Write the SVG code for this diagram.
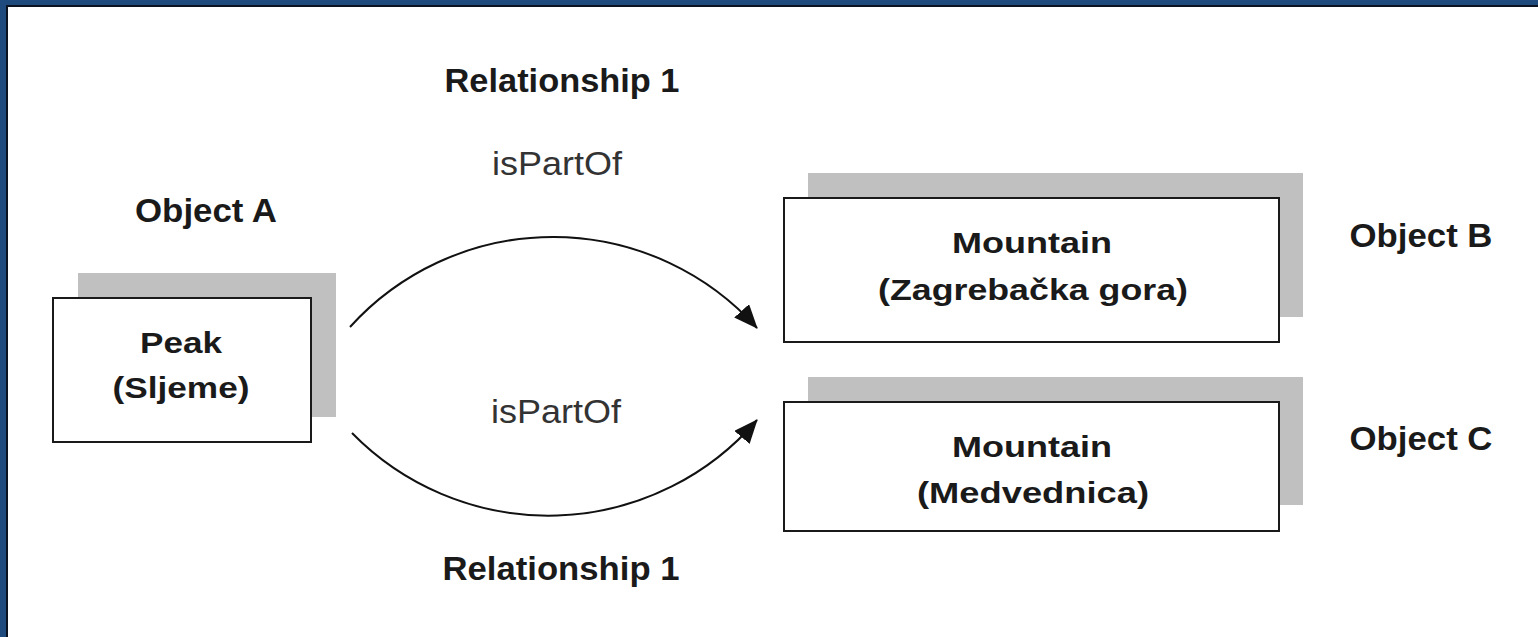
<svg xmlns="http://www.w3.org/2000/svg" width="1538" height="637" viewBox="0 0 1538 637">
<style>
.b{font-family:"Liberation Sans",Arial,sans-serif;font-weight:bold;fill:#1a1a1a;text-anchor:middle}
.r{font-family:"Liberation Sans",Arial,sans-serif;font-weight:normal;fill:#333;text-anchor:middle}
.lbl{font-family:"Liberation Sans",Arial,sans-serif;font-weight:bold;fill:#1a1a1a;text-anchor:middle}
.sh{fill:#c0c0c0}
.box{fill:#fff;stroke:#1a1a1a;stroke-width:2}
.con{fill:none;stroke:#111;stroke-width:2}
</style>
<defs>
<marker id="ah" viewBox="0 0 24 20" refX="23" refY="10" markerWidth="24" markerHeight="20" markerUnits="userSpaceOnUse" orient="auto">
<path d="M0,0 L24,10 L0,20 z" fill="#111"/>
</marker>
</defs>
<rect x="0" y="0" width="1538" height="637" fill="#1f4a7d"/>
<rect x="6" y="5" width="1532" height="632" fill="#0b1220"/>
<rect x="8" y="7" width="1530" height="630" fill="#fff"/>

<g id="labels">
<text class="lbl" x="562" y="92" font-size="33" textLength="235" lengthAdjust="spacingAndGlyphs">Relationship 1</text>
<text class="r" x="557" y="175" font-size="34" textLength="130" lengthAdjust="spacingAndGlyphs">isPartOf</text>
<text class="r" x="556" y="423" font-size="34" textLength="130" lengthAdjust="spacingAndGlyphs">isPartOf</text>
<text class="lbl" x="561" y="580" font-size="33" textLength="237" lengthAdjust="spacingAndGlyphs">Relationship 1</text>
<text class="lbl" x="206" y="222" font-size="33" textLength="142" lengthAdjust="spacingAndGlyphs">Object A</text>
<text class="lbl" x="1421" y="247" font-size="33" textLength="143" lengthAdjust="spacingAndGlyphs">Object B</text>
<text class="lbl" x="1421" y="450" font-size="33" textLength="143" lengthAdjust="spacingAndGlyphs">Object C</text>
</g>

<g id="connectors">
<path class="con" d="M350,327 A274,274 0 0 1 757,328" marker-end="url(#ah)"/>
<path class="con" d="M352,433 A275,275 0 0 0 757,420" marker-end="url(#ah)"/>
</g>

<g id="nodeA">
<rect class="sh" x="78" y="273" width="258" height="144"/>
<rect class="box" x="53" y="298" width="258" height="144"/>
<text class="b" x="181" y="353" font-size="30" textLength="82" lengthAdjust="spacingAndGlyphs">Peak</text>
<text class="b" x="181" y="398" font-size="30" textLength="137" lengthAdjust="spacingAndGlyphs">(Sljeme)</text>
</g>

<g id="nodeB">
<rect class="sh" x="808" y="173" width="495" height="144"/>
<rect class="box" x="784" y="198" width="495" height="144"/>
<text class="b" x="1032" y="253" font-size="30" textLength="160" lengthAdjust="spacingAndGlyphs">Mountain</text>
<text class="b" x="1033" y="300" font-size="30" textLength="310" lengthAdjust="spacingAndGlyphs">(Zagrebačka gora)</text>
</g>

<g id="nodeC">
<rect class="sh" x="808" y="377" width="495" height="128"/>
<rect class="box" x="784" y="402" width="495" height="129"/>
<text class="b" x="1032" y="457" font-size="30" textLength="160" lengthAdjust="spacingAndGlyphs">Mountain</text>
<text class="b" x="1033" y="503" font-size="30" textLength="232" lengthAdjust="spacingAndGlyphs">(Medvednica)</text>
</g>
</svg>
